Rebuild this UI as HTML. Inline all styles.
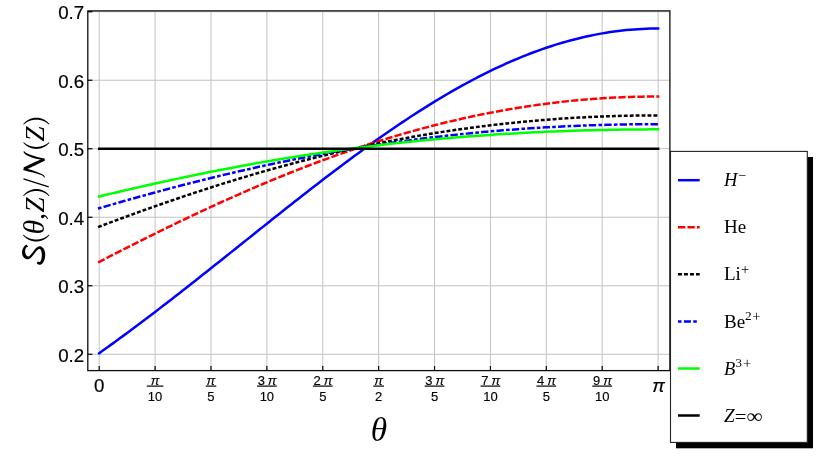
<!DOCTYPE html>
<html><head><meta charset="utf-8"><title>plot</title>
<style>html,body{margin:0;padding:0;background:#fff;}body{width:830px;height:466px;overflow:hidden;}svg{display:block;will-change:transform;transform:translateZ(0);}text{font-family:"Liberation Sans",sans-serif;fill:#000;}.se{font-family:"Liberation Serif",serif;}.tk{font-size:18.7px;stroke:#000;stroke-width:0.2px;}.fr{font-size:13px;stroke:#000;stroke-width:0.15px;}.lg{font-family:"Liberation Serif",serif;font-size:19px;}</style></head><body>
<svg width="830" height="466" viewBox="0 0 830 466">
<rect x="0" y="0" width="830" height="466" fill="#ffffff"/>
<g stroke="#c2c2c2" stroke-width="1" fill="none">
<line x1="99.20" y1="10.9" x2="99.20" y2="370.6"/>
<line x1="155.09" y1="10.9" x2="155.09" y2="370.6"/>
<line x1="210.98" y1="10.9" x2="210.98" y2="370.6"/>
<line x1="266.87" y1="10.9" x2="266.87" y2="370.6"/>
<line x1="322.76" y1="10.9" x2="322.76" y2="370.6"/>
<line x1="378.65" y1="10.9" x2="378.65" y2="370.6"/>
<line x1="434.54" y1="10.9" x2="434.54" y2="370.6"/>
<line x1="490.43" y1="10.9" x2="490.43" y2="370.6"/>
<line x1="546.32" y1="10.9" x2="546.32" y2="370.6"/>
<line x1="602.21" y1="10.9" x2="602.21" y2="370.6"/>
<line x1="658.10" y1="10.9" x2="658.10" y2="370.6"/>
<line x1="87.8" y1="354.28" x2="669.9" y2="354.28"/>
<line x1="87.8" y1="285.77" x2="669.9" y2="285.77"/>
<line x1="87.8" y1="217.26" x2="669.9" y2="217.26"/>
<line x1="87.8" y1="148.75" x2="669.9" y2="148.75"/>
<line x1="87.8" y1="80.24" x2="669.9" y2="80.24"/>
<line x1="87.8" y1="11.73" x2="669.9" y2="11.73"/>
</g>
<g fill="none" stroke-width="2.5" stroke-linecap="butt" stroke-linejoin="round">
<path d="M98.18,353.91 L99.20,353.18 L103.19,350.34 L107.18,347.48 L111.18,344.61 L115.17,341.71 L119.16,338.80 L123.15,335.87 L127.15,332.93 L131.14,329.97 L135.13,327.00 L139.12,324.01 L143.11,321.01 L147.11,317.99 L151.10,314.97 L155.09,311.92 L159.08,308.87 L163.07,305.80 L167.07,302.73 L171.06,299.64 L175.05,296.54 L179.04,293.43 L183.03,290.31 L187.03,287.19 L191.02,284.05 L195.01,280.91 L199.00,277.76 L203.00,274.60 L206.99,271.44 L210.98,268.27 L214.97,265.10 L218.96,261.92 L222.96,258.74 L226.95,255.56 L230.94,252.37 L234.93,249.19 L238.93,246.00 L242.92,242.81 L246.91,239.62 L250.90,236.43 L254.89,233.24 L258.89,230.05 L262.88,226.87 L266.87,223.69 L270.86,220.51 L274.85,217.34 L278.85,214.17 L282.84,211.01 L286.83,207.85 L290.82,204.70 L294.81,201.56 L298.81,198.43 L302.80,195.30 L306.79,192.19 L310.78,189.09 L314.78,185.99 L318.77,182.91 L322.76,179.84 L326.75,176.79 L330.74,173.75 L334.74,170.72 L338.73,167.71 L342.72,164.71 L346.71,161.73 L350.70,158.77 L354.70,155.82 L358.69,152.90 L362.68,149.99 L366.67,147.10 L370.67,144.23 L374.66,141.39 L378.65,138.56 L382.64,135.76 L386.63,132.98 L390.63,130.23 L394.62,127.50 L398.61,124.79 L402.60,122.11 L406.59,119.46 L410.59,116.83 L414.58,114.23 L418.57,111.66 L422.56,109.12 L426.56,106.61 L430.55,104.13 L434.54,101.68 L438.53,99.26 L442.52,96.87 L446.52,94.52 L450.51,92.19 L454.50,89.90 L458.49,87.65 L462.48,85.43 L466.48,83.25 L470.47,81.10 L474.46,78.99 L478.45,76.91 L482.45,74.87 L486.44,72.88 L490.43,70.91 L494.42,68.99 L498.41,67.11 L502.41,65.27 L506.40,63.47 L510.39,61.70 L514.38,59.99 L518.38,58.31 L522.37,56.67 L526.36,55.08 L530.35,53.53 L534.34,52.02 L538.34,50.56 L542.33,49.14 L546.32,47.77 L550.31,46.44 L554.30,45.15 L558.30,43.92 L562.29,42.72 L566.28,41.58 L570.27,40.48 L574.26,39.43 L578.26,38.42 L582.25,37.46 L586.24,36.55 L590.23,35.69 L594.23,34.87 L598.22,34.11 L602.21,33.39 L606.20,32.72 L610.19,32.10 L614.19,31.53 L618.18,31.01 L622.17,30.53 L626.16,30.11 L630.16,29.74 L634.15,29.41 L638.14,29.14 L642.13,28.91 L646.12,28.74 L650.12,28.61 L654.11,28.54 L658.10,28.51 L659.35,28.51" stroke="#0000ff"/>
<path d="M98.09,262.43 L99.20,261.86 L103.19,259.80 L107.18,257.75 L111.18,255.71 L115.17,253.67 L119.16,251.63 L123.15,249.60 L127.15,247.58 L131.14,245.56 L135.13,243.55 L139.12,241.55 L143.11,239.56 L147.11,237.57 L151.10,235.58 L155.09,233.61 L159.08,231.64 L163.07,229.69 L167.07,227.74 L171.06,225.80 L175.05,223.86 L179.04,221.94 L183.03,220.03 L187.03,218.12 L191.02,216.23 L195.01,214.34 L199.00,212.47 L203.00,210.60 L206.99,208.75 L210.98,206.91 L214.97,205.07 L218.96,203.25 L222.96,201.44 L226.95,199.64 L230.94,197.85 L234.93,196.08 L238.93,194.31 L242.92,192.56 L246.91,190.82 L250.90,189.09 L254.89,187.38 L258.89,185.68 L262.88,183.99 L266.87,182.31 L270.86,180.65 L274.85,179.00 L278.85,177.36 L282.84,175.74 L286.83,174.13 L290.82,172.53 L294.81,170.95 L298.81,169.38 L302.80,167.83 L306.79,166.29 L310.78,164.77 L314.78,163.26 L318.77,161.76 L322.76,160.28 L326.75,158.82 L330.74,157.37 L334.74,155.93 L338.73,154.52 L342.72,153.11 L346.71,151.72 L350.70,150.35 L354.70,148.99 L358.69,147.65 L362.68,146.33 L366.67,145.02 L370.67,143.72 L374.66,142.45 L378.65,141.18 L382.64,139.94 L386.63,138.71 L390.63,137.50 L394.62,136.30 L398.61,135.13 L402.60,133.96 L406.59,132.82 L410.59,131.69 L414.58,130.58 L418.57,129.48 L422.56,128.41 L426.56,127.35 L430.55,126.30 L434.54,125.28 L438.53,124.27 L442.52,123.28 L446.52,122.30 L450.51,121.35 L454.50,120.41 L458.49,119.49 L462.48,118.58 L466.48,117.70 L470.47,116.83 L474.46,115.98 L478.45,115.15 L482.45,114.33 L486.44,113.53 L490.43,112.75 L494.42,111.99 L498.41,111.25 L502.41,110.52 L506.40,109.81 L510.39,109.12 L514.38,108.45 L518.38,107.80 L522.37,107.16 L526.36,106.55 L530.35,105.95 L534.34,105.37 L538.34,104.80 L542.33,104.26 L546.32,103.73 L550.31,103.22 L554.30,102.74 L558.30,102.26 L562.29,101.81 L566.28,101.38 L570.27,100.96 L574.26,100.56 L578.26,100.18 L582.25,99.82 L586.24,99.48 L590.23,99.16 L594.23,98.85 L598.22,98.56 L602.21,98.29 L606.20,98.04 L610.19,97.81 L614.19,97.60 L618.18,97.40 L622.17,97.23 L626.16,97.07 L630.16,96.93 L634.15,96.81 L638.14,96.71 L642.13,96.63 L646.12,96.56 L650.12,96.51 L654.11,96.49 L658.10,96.48 L659.35,96.47" stroke="#ff0000" stroke-dasharray="7.3 2.19"/>
<path d="M98.03,227.09 L99.20,226.65 L103.19,225.15 L107.18,223.65 L111.18,222.17 L115.17,220.69 L119.16,219.21 L123.15,217.74 L127.15,216.28 L131.14,214.83 L135.13,213.38 L139.12,211.94 L143.11,210.51 L147.11,209.08 L151.10,207.67 L155.09,206.26 L159.08,204.86 L163.07,203.46 L167.07,202.08 L171.06,200.70 L175.05,199.34 L179.04,197.98 L183.03,196.63 L187.03,195.29 L191.02,193.95 L195.01,192.63 L199.00,191.32 L203.00,190.02 L206.99,188.72 L210.98,187.44 L214.97,186.16 L218.96,184.90 L222.96,183.64 L226.95,182.40 L230.94,181.16 L234.93,179.94 L238.93,178.73 L242.92,177.52 L246.91,176.33 L250.90,175.15 L254.89,173.98 L258.89,172.82 L262.88,171.67 L266.87,170.53 L270.86,169.40 L274.85,168.29 L278.85,167.18 L282.84,166.09 L286.83,165.00 L290.82,163.93 L294.81,162.87 L298.81,161.82 L302.80,160.79 L306.79,159.76 L310.78,158.74 L314.78,157.74 L318.77,156.75 L322.76,155.77 L326.75,154.80 L330.74,153.85 L334.74,152.90 L338.73,151.97 L342.72,151.05 L346.71,150.14 L350.70,149.24 L354.70,148.36 L358.69,147.48 L362.68,146.62 L366.67,145.77 L370.67,144.93 L374.66,144.11 L378.65,143.29 L382.64,142.49 L386.63,141.70 L390.63,140.92 L394.62,140.15 L398.61,139.40 L402.60,138.65 L406.59,137.92 L410.59,137.20 L414.58,136.50 L418.57,135.80 L422.56,135.12 L426.56,134.45 L430.55,133.79 L434.54,133.14 L438.53,132.51 L442.52,131.88 L446.52,131.27 L450.51,130.67 L454.50,130.08 L458.49,129.50 L462.48,128.94 L466.48,128.39 L470.47,127.85 L474.46,127.32 L478.45,126.80 L482.45,126.29 L486.44,125.80 L490.43,125.32 L494.42,124.85 L498.41,124.39 L502.41,123.94 L506.40,123.50 L510.39,123.08 L514.38,122.67 L518.38,122.26 L522.37,121.88 L526.36,121.50 L530.35,121.13 L534.34,120.78 L538.34,120.43 L542.33,120.10 L546.32,119.78 L550.31,119.47 L554.30,119.17 L558.30,118.88 L562.29,118.61 L566.28,118.35 L570.27,118.09 L574.26,117.85 L578.26,117.62 L582.25,117.40 L586.24,117.20 L590.23,117.00 L594.23,116.82 L598.22,116.64 L602.21,116.48 L606.20,116.33 L610.19,116.19 L614.19,116.06 L618.18,115.94 L622.17,115.84 L626.16,115.74 L630.16,115.66 L634.15,115.59 L638.14,115.53 L642.13,115.47 L646.12,115.44 L650.12,115.41 L654.11,115.39 L658.10,115.39 L659.35,115.38" stroke="#000000" stroke-dasharray="3.9 2.036"/>
<path d="M98.00,208.57 L99.20,208.22 L103.19,207.05 L107.18,205.89 L111.18,204.74 L115.17,203.59 L119.16,202.44 L123.15,201.31 L127.15,200.17 L131.14,199.05 L135.13,197.93 L139.12,196.82 L143.11,195.71 L147.11,194.61 L151.10,193.51 L155.09,192.43 L159.08,191.35 L163.07,190.27 L167.07,189.21 L171.06,188.15 L175.05,187.09 L179.04,186.05 L183.03,185.01 L187.03,183.98 L191.02,182.96 L195.01,181.95 L199.00,180.94 L203.00,179.94 L206.99,178.95 L210.98,177.97 L214.97,176.99 L218.96,176.03 L222.96,175.07 L226.95,174.12 L230.94,173.18 L234.93,172.25 L238.93,171.32 L242.92,170.41 L246.91,169.50 L250.90,168.60 L254.89,167.71 L258.89,166.83 L262.88,165.96 L266.87,165.09 L270.86,164.24 L274.85,163.39 L278.85,162.56 L282.84,161.73 L286.83,160.91 L290.82,160.10 L294.81,159.30 L298.81,158.51 L302.80,157.73 L306.79,156.96 L310.78,156.19 L314.78,155.44 L318.77,154.70 L322.76,153.96 L326.75,153.23 L330.74,152.52 L334.74,151.81 L338.73,151.11 L342.72,150.42 L346.71,149.74 L350.70,149.07 L354.70,148.41 L358.69,147.75 L362.68,147.11 L366.67,146.48 L370.67,145.85 L374.66,145.24 L378.65,144.63 L382.64,144.04 L386.63,143.45 L390.63,142.87 L394.62,142.30 L398.61,141.74 L402.60,141.19 L406.59,140.65 L410.59,140.12 L414.58,139.60 L418.57,139.08 L422.56,138.58 L426.56,138.08 L430.55,137.60 L434.54,137.12 L438.53,136.65 L442.52,136.19 L446.52,135.74 L450.51,135.30 L454.50,134.87 L458.49,134.44 L462.48,134.03 L466.48,133.62 L470.47,133.23 L474.46,132.84 L478.45,132.46 L482.45,132.09 L486.44,131.73 L490.43,131.37 L494.42,131.03 L498.41,130.69 L502.41,130.37 L506.40,130.05 L510.39,129.74 L514.38,129.44 L518.38,129.15 L522.37,128.86 L526.36,128.59 L530.35,128.32 L534.34,128.06 L538.34,127.81 L542.33,127.57 L546.32,127.34 L550.31,127.11 L554.30,126.90 L558.30,126.69 L562.29,126.49 L566.28,126.30 L570.27,126.11 L574.26,125.94 L578.26,125.77 L582.25,125.62 L586.24,125.47 L590.23,125.32 L594.23,125.19 L598.22,125.06 L602.21,124.95 L606.20,124.84 L610.19,124.74 L614.19,124.64 L618.18,124.56 L622.17,124.48 L626.16,124.41 L630.16,124.35 L634.15,124.30 L638.14,124.26 L642.13,124.22 L646.12,124.19 L650.12,124.17 L654.11,124.16 L658.10,124.15 L659.35,124.15" stroke="#0000ff" stroke-dasharray="3.6 2.2 7.4 2.22"/>
<path d="M97.98,196.79 L99.20,196.50 L103.19,195.54 L107.18,194.59 L111.18,193.64 L115.17,192.70 L119.16,191.76 L123.15,190.82 L127.15,189.90 L131.14,188.97 L135.13,188.06 L139.12,187.15 L143.11,186.24 L147.11,185.34 L151.10,184.45 L155.09,183.56 L159.08,182.68 L163.07,181.80 L167.07,180.93 L171.06,180.07 L175.05,179.21 L179.04,178.36 L183.03,177.52 L187.03,176.68 L191.02,175.85 L195.01,175.03 L199.00,174.21 L203.00,173.40 L206.99,172.60 L210.98,171.80 L214.97,171.02 L218.96,170.24 L222.96,169.46 L226.95,168.69 L230.94,167.94 L234.93,167.18 L238.93,166.44 L242.92,165.70 L246.91,164.97 L250.90,164.25 L254.89,163.53 L258.89,162.83 L262.88,162.13 L266.87,161.44 L270.86,160.75 L274.85,160.07 L278.85,159.41 L282.84,158.74 L286.83,158.09 L290.82,157.44 L294.81,156.81 L298.81,156.18 L302.80,155.55 L306.79,154.94 L310.78,154.33 L314.78,153.73 L318.77,153.14 L322.76,152.56 L326.75,151.98 L330.74,151.41 L334.74,150.85 L338.73,150.30 L342.72,149.75 L346.71,149.22 L350.70,148.69 L354.70,148.16 L358.69,147.65 L362.68,147.14 L366.67,146.65 L370.67,146.15 L374.66,145.67 L378.65,145.20 L382.64,144.73 L386.63,144.27 L390.63,143.81 L394.62,143.37 L398.61,142.93 L402.60,142.50 L406.59,142.08 L410.59,141.66 L414.58,141.25 L418.57,140.85 L422.56,140.46 L426.56,140.08 L430.55,139.70 L434.54,139.33 L438.53,138.96 L442.52,138.61 L446.52,138.26 L450.51,137.91 L454.50,137.58 L458.49,137.25 L462.48,136.93 L466.48,136.62 L470.47,136.31 L474.46,136.01 L478.45,135.72 L482.45,135.43 L486.44,135.15 L490.43,134.88 L494.42,134.62 L498.41,134.36 L502.41,134.11 L506.40,133.86 L510.39,133.63 L514.38,133.40 L518.38,133.17 L522.37,132.95 L526.36,132.74 L530.35,132.54 L534.34,132.34 L538.34,132.15 L542.33,131.96 L546.32,131.79 L550.31,131.62 L554.30,131.45 L558.30,131.29 L562.29,131.14 L566.28,130.99 L570.27,130.85 L574.26,130.72 L578.26,130.59 L582.25,130.47 L586.24,130.36 L590.23,130.25 L594.23,130.15 L598.22,130.05 L602.21,129.96 L606.20,129.88 L610.19,129.80 L614.19,129.73 L618.18,129.67 L622.17,129.61 L626.16,129.56 L630.16,129.51 L634.15,129.47 L638.14,129.44 L642.13,129.41 L646.12,129.39 L650.12,129.37 L654.11,129.36 L658.10,129.36 L659.35,129.36" stroke="#00ff00"/>
<path d="M97.95,148.75 L659.35,148.75" stroke="#000000" stroke-width="2.4"/>
</g>
<rect x="87.8" y="10.9" width="582.10" height="359.70" fill="none" stroke="#0d0d0d" stroke-width="1.3"/>
<g stroke="#000" stroke-width="1.2" fill="none">
<line x1="99.20" y1="370.6" x2="99.20" y2="366.1"/>
<line x1="155.09" y1="370.6" x2="155.09" y2="366.1"/>
<line x1="210.98" y1="370.6" x2="210.98" y2="366.1"/>
<line x1="266.87" y1="370.6" x2="266.87" y2="366.1"/>
<line x1="322.76" y1="370.6" x2="322.76" y2="366.1"/>
<line x1="378.65" y1="370.6" x2="378.65" y2="366.1"/>
<line x1="434.54" y1="370.6" x2="434.54" y2="366.1"/>
<line x1="490.43" y1="370.6" x2="490.43" y2="366.1"/>
<line x1="546.32" y1="370.6" x2="546.32" y2="366.1"/>
<line x1="602.21" y1="370.6" x2="602.21" y2="366.1"/>
<line x1="658.10" y1="370.6" x2="658.10" y2="366.1"/>
<line x1="87.8" y1="354.28" x2="92.39999999999999" y2="354.28"/>
<line x1="87.8" y1="285.77" x2="92.39999999999999" y2="285.77"/>
<line x1="87.8" y1="217.26" x2="92.39999999999999" y2="217.26"/>
<line x1="87.8" y1="148.75" x2="92.39999999999999" y2="148.75"/>
<line x1="87.8" y1="80.24" x2="92.39999999999999" y2="80.24"/>
<line x1="87.8" y1="11.73" x2="92.39999999999999" y2="11.73"/>
</g>
<text class="tk" x="84.2" y="361.58" text-anchor="end">0.2</text>
<text class="tk" x="84.2" y="293.07" text-anchor="end">0.3</text>
<text class="tk" x="84.2" y="224.56" text-anchor="end">0.4</text>
<text class="tk" x="84.2" y="156.05" text-anchor="end">0.5</text>
<text class="tk" x="84.2" y="87.54" text-anchor="end">0.6</text>
<text class="tk" x="84.2" y="19.03" text-anchor="end">0.7</text>
<text class="tk" x="99.20" y="392" text-anchor="middle">0</text>
<text class="fr" x="155.09" y="384.5" text-anchor="middle" font-style="italic">π</text>
<line x1="146.79" y1="386.1" x2="163.39" y2="386.1" stroke="#000" stroke-width="1.2"/>
<text class="fr" x="155.09" y="401" text-anchor="middle">10</text>
<text class="fr" x="210.98" y="384.5" text-anchor="middle" font-style="italic">π</text>
<line x1="205.68" y1="386.1" x2="216.28" y2="386.1" stroke="#000" stroke-width="1.2"/>
<text class="fr" x="210.98" y="401" text-anchor="middle">5</text>
<text class="fr" x="257.67" y="384.5">3</text>
<text class="fr" x="267.87" y="384.5" font-style="italic">π</text>
<line x1="256.97" y1="386.1" x2="276.77" y2="386.1" stroke="#000" stroke-width="1.2"/>
<text class="fr" x="266.87" y="401" text-anchor="middle">10</text>
<text class="fr" x="313.56" y="384.5">2</text>
<text class="fr" x="323.76" y="384.5" font-style="italic">π</text>
<line x1="312.86" y1="386.1" x2="332.66" y2="386.1" stroke="#000" stroke-width="1.2"/>
<text class="fr" x="322.76" y="401" text-anchor="middle">5</text>
<text class="fr" x="378.65" y="384.5" text-anchor="middle" font-style="italic">π</text>
<line x1="373.35" y1="386.1" x2="383.95" y2="386.1" stroke="#000" stroke-width="1.2"/>
<text class="fr" x="378.65" y="401" text-anchor="middle">2</text>
<text class="fr" x="425.34" y="384.5">3</text>
<text class="fr" x="435.54" y="384.5" font-style="italic">π</text>
<line x1="424.64" y1="386.1" x2="444.44" y2="386.1" stroke="#000" stroke-width="1.2"/>
<text class="fr" x="434.54" y="401" text-anchor="middle">5</text>
<text class="fr" x="481.23" y="384.5">7</text>
<text class="fr" x="491.43" y="384.5" font-style="italic">π</text>
<line x1="480.53" y1="386.1" x2="500.33" y2="386.1" stroke="#000" stroke-width="1.2"/>
<text class="fr" x="490.43" y="401" text-anchor="middle">10</text>
<text class="fr" x="537.12" y="384.5">4</text>
<text class="fr" x="547.32" y="384.5" font-style="italic">π</text>
<line x1="536.42" y1="386.1" x2="556.22" y2="386.1" stroke="#000" stroke-width="1.2"/>
<text class="fr" x="546.32" y="401" text-anchor="middle">5</text>
<text class="fr" x="593.01" y="384.5">9</text>
<text class="fr" x="603.21" y="384.5" font-style="italic">π</text>
<line x1="592.31" y1="386.1" x2="612.11" y2="386.1" stroke="#000" stroke-width="1.2"/>
<text class="fr" x="602.21" y="401" text-anchor="middle">10</text>
<text class="tk" x="658.60" y="391.7" text-anchor="middle" font-style="italic">π</text>
<text class="se" x="379.0" y="440.6" text-anchor="middle" font-style="italic" font-size="33.3">θ</text>
<path d="M26.58,244.40 L26.46,244.50 L26.36,244.58 L26.24,244.66 L26.10,244.76 L25.92,244.87 L25.73,244.99 L25.51,245.13 L25.28,245.29 L25.05,245.48 L24.81,245.70 L24.58,245.95 L24.37,246.22 L24.18,246.48 L23.99,246.76 L23.79,247.05 L23.59,247.37 L23.39,247.70 L23.20,248.04 L23.00,248.40 L22.82,248.77 L22.65,249.16 L22.50,249.56 L22.37,249.96 L22.27,250.38 L22.19,250.79 L22.13,251.20 L22.09,251.62 L22.06,252.05 L22.05,252.48 L22.06,252.92 L22.08,253.35 L22.13,253.78 L22.19,254.20 L22.27,254.62 L22.38,255.03 L22.52,255.43 L22.69,255.81 L22.88,256.18 L23.10,256.53 L23.33,256.87 L23.59,257.18 L23.85,257.47 L24.14,257.75 L24.43,258.00 L24.73,258.23 L25.05,258.44 L25.38,258.63 L25.71,258.79 L26.02,258.91 L26.34,259.01 L26.68,259.09 L27.02,259.16 L27.39,259.19 L27.76,259.20 L28.13,259.17 L28.52,259.11 L28.90,259.01 L29.28,258.87 L29.65,258.70 L30.02,258.49 L30.38,258.23 L30.73,257.94 L31.06,257.63 L31.37,257.30 L31.69,256.95 L32.00,256.59 L32.30,256.22 L32.61,255.84 L32.91,255.47 L33.20,255.10 L33.50,254.74 L33.80,254.38 L34.11,254.01 L34.43,253.60 L34.75,253.19 L35.06,252.78 L35.37,252.36 L35.68,251.95 L35.98,251.56 L36.28,251.19 L36.57,250.85 L36.85,250.54 L37.11,250.28 L37.37,250.06 L37.63,249.85 L37.90,249.65 L38.17,249.47 L38.43,249.31 L38.68,249.18 L38.92,249.07 L39.14,248.99 L39.33,248.93 L39.50,248.90 L39.64,248.90 L39.73,248.91 L39.80,248.93 L39.85,248.97 L39.93,249.02 L40.03,249.10 L40.14,249.20 L40.27,249.33 L40.41,249.49 L40.55,249.67 L40.68,249.87 L40.81,250.09 L40.94,250.31 L41.05,250.55 L41.15,250.78 L41.24,251.02 L41.32,251.29 L41.41,251.60 L41.48,251.94 L41.55,252.30 L41.61,252.68 L41.67,253.07 L41.71,253.47 L41.75,253.86 L41.77,254.26 L41.79,254.64 L41.80,255.01 L41.80,255.38 L41.79,255.75 L41.77,256.14 L41.74,256.54 L41.70,256.95 L41.66,257.35 L41.60,257.75 L41.54,258.14 L41.47,258.51 L41.39,258.87 L41.31,259.20 L41.23,259.50 L41.15,259.77 L41.05,260.03 L40.95,260.29 L40.84,260.53 L40.72,260.77 L40.59,260.99 L40.47,261.19 L40.34,261.38 L40.22,261.56 L40.10,261.71 L39.99,261.83 L39.91,261.92 L39.87,261.97 L39.84,261.99 L39.81,262.01 L39.78,262.03 L39.73,262.05 L39.68,262.06 L39.61,262.07 L39.52,262.07 L39.43,262.07 L39.32,262.06 L39.21,262.05 L39.13,262.04 L39.12,262.05 L39.13,262.07 L39.11,262.07 L39.06,262.05 L38.99,262.01 L38.91,261.95 L38.81,261.87 L38.70,261.78 L38.58,261.67 L38.44,261.55 L38.28,261.42 L38.14,261.32 L36.66,263.08 L36.75,263.17 L36.81,263.25 L36.89,263.35 L36.99,263.46 L37.09,263.59 L37.21,263.72 L37.35,263.87 L37.52,264.03 L37.71,264.18 L37.94,264.33 L38.20,264.46 L38.47,264.56 L38.68,264.62 L38.88,264.66 L39.09,264.70 L39.33,264.74 L39.59,264.75 L39.86,264.75 L40.15,264.73 L40.46,264.67 L40.77,264.58 L41.09,264.45 L41.40,264.28 L41.69,264.08 L41.94,263.87 L42.17,263.65 L42.40,263.42 L42.62,263.16 L42.84,262.89 L43.06,262.60 L43.27,262.29 L43.47,261.97 L43.66,261.62 L43.84,261.26 L44.01,260.89 L44.17,260.50 L44.31,260.10 L44.44,259.69 L44.57,259.26 L44.68,258.82 L44.79,258.36 L44.89,257.89 L44.98,257.41 L45.06,256.92 L45.12,256.44 L45.16,255.95 L45.19,255.46 L45.20,254.99 L45.19,254.52 L45.16,254.04 L45.12,253.56 L45.07,253.07 L45.00,252.59 L44.91,252.11 L44.81,251.63 L44.70,251.16 L44.56,250.70 L44.41,250.26 L44.24,249.83 L44.05,249.42 L43.84,249.04 L43.61,248.68 L43.36,248.33 L43.09,248.00 L42.81,247.69 L42.50,247.40 L42.18,247.13 L41.83,246.88 L41.46,246.66 L41.07,246.48 L40.65,246.35 L40.20,246.27 L39.76,246.25 L39.33,246.29 L38.92,246.38 L38.53,246.51 L38.16,246.67 L37.81,246.85 L37.46,247.06 L37.12,247.29 L36.79,247.53 L36.47,247.78 L36.16,248.05 L35.83,248.34 L35.50,248.67 L35.17,249.04 L34.86,249.43 L34.55,249.84 L34.25,250.26 L33.95,250.68 L33.65,251.11 L33.35,251.53 L33.06,251.93 L32.77,252.32 L32.49,252.68 L32.20,253.02 L31.90,253.36 L31.58,253.72 L31.27,254.07 L30.95,254.42 L30.64,254.76 L30.33,255.08 L30.03,255.37 L29.74,255.64 L29.46,255.88 L29.20,256.07 L28.98,256.22 L28.78,256.31 L28.60,256.38 L28.44,256.42 L28.28,256.44 L28.14,256.44 L28.01,256.42 L27.88,256.39 L27.75,256.35 L27.63,256.30 L27.50,256.24 L27.36,256.17 L27.22,256.10 L27.09,256.01 L26.98,255.93 L26.86,255.83 L26.73,255.71 L26.59,255.57 L26.46,255.42 L26.32,255.25 L26.19,255.08 L26.07,254.90 L25.95,254.71 L25.85,254.53 L25.76,254.35 L25.68,254.17 L25.60,253.98 L25.53,253.75 L25.45,253.50 L25.38,253.22 L25.31,252.93 L25.25,252.62 L25.20,252.31 L25.17,251.99 L25.14,251.68 L25.13,251.38 L25.12,251.09 L25.13,250.82 L25.15,250.57 L25.19,250.30 L25.25,250.01 L25.32,249.71 L25.41,249.40 L25.50,249.10 L25.61,248.80 L25.73,248.51 L25.86,248.24 L25.98,247.98 L26.11,247.76 L26.23,247.58 L26.32,247.46 L26.41,247.39 L26.49,247.33 L26.59,247.29 L26.70,247.25 L26.82,247.21 L26.97,247.18 L27.14,247.13 L27.34,247.08 L27.56,247.00 L27.80,246.90 L28.02,246.80Z" fill="#000"/>
<path d="M23.34,151.85 L23.49,152.03 L23.62,152.22 L23.74,152.40 L23.87,152.59 L24.00,152.79 L24.14,152.99 L24.29,153.20 L24.46,153.41 L24.65,153.62 L24.86,153.84 L25.09,154.05 L25.35,154.26 L25.62,154.46 L25.91,154.66 L26.21,154.86 L26.52,155.06 L26.85,155.25 L27.19,155.44 L27.54,155.63 L27.90,155.81 L28.27,156.00 L28.64,156.18 L29.03,156.35 L29.43,156.53 L29.84,156.70 L30.26,156.87 L30.70,157.04 L31.16,157.21 L31.62,157.38 L32.08,157.54 L32.56,157.70 L33.03,157.85 L33.51,158.00 L33.98,158.14 L34.45,158.28 L34.91,158.41 L35.38,158.54 L35.85,158.66 L36.33,158.77 L36.81,158.88 L37.30,158.99 L37.77,159.09 L38.24,159.18 L38.71,159.27 L39.16,159.36 L39.59,159.44 L40.01,159.51 L40.41,159.58 L40.79,159.64 L41.16,159.69 L41.51,159.74 L41.84,159.78 L42.16,159.81 L42.47,159.84 L42.77,159.86 L43.07,159.88 L43.37,159.91 L43.67,159.93 L43.98,159.96 L44.29,159.99 L44.51,158.81 L44.20,158.73 L43.90,158.65 L43.60,158.57 L43.31,158.49 L43.02,158.42 L42.73,158.34 L42.43,158.26 L42.13,158.18 L41.82,158.10 L41.49,158.01 L41.15,157.92 L40.79,157.82 L40.40,157.72 L39.99,157.61 L39.57,157.50 L39.13,157.38 L38.68,157.27 L38.23,157.15 L37.77,157.03 L37.30,156.90 L36.84,156.78 L36.38,156.65 L35.93,156.52 L35.49,156.39 L35.04,156.26 L34.59,156.12 L34.13,155.98 L33.66,155.84 L33.20,155.70 L32.74,155.55 L32.28,155.40 L31.84,155.26 L31.40,155.11 L30.98,154.96 L30.57,154.82 L30.17,154.67 L29.79,154.53 L29.42,154.38 L29.05,154.24 L28.69,154.09 L28.34,153.94 L28.00,153.80 L27.67,153.65 L27.36,153.51 L27.06,153.36 L26.77,153.22 L26.50,153.08 L26.25,152.94 L26.02,152.81 L25.82,152.67 L25.64,152.54 L25.46,152.41 L25.29,152.27 L25.12,152.12 L24.96,151.97 L24.79,151.81 L24.62,151.65 L24.44,151.49 L24.25,151.32 L24.06,151.15Z" fill="#000"/>
<path d="M44.05,158.02 L43.19,158.40 L42.33,158.78 L41.47,159.16 L40.61,159.54 L39.74,159.91 L38.88,160.29 L38.02,160.67 L37.16,161.05 L36.31,161.43 L35.45,161.82 L34.59,162.21 L33.74,162.60 L32.89,162.99 L32.04,163.39 L31.19,163.80 L30.34,164.20 L29.50,164.61 L28.65,165.02 L27.81,165.43 L26.96,165.85 L26.12,166.26 L25.27,166.67 L24.43,167.08 L23.58,167.49 L24.82,170.11 L25.67,169.72 L26.53,169.33 L27.38,168.94 L28.24,168.55 L29.09,168.17 L29.95,167.78 L30.80,167.39 L31.66,167.00 L32.51,166.60 L33.36,166.21 L34.21,165.81 L35.06,165.40 L35.91,164.99 L36.75,164.58 L37.59,164.17 L38.44,163.75 L39.28,163.33 L40.12,162.91 L40.96,162.49 L41.79,162.06 L42.63,161.64 L43.47,161.22 L44.31,160.80 L45.15,160.38Z" fill="#000"/>
<path d="M23.20,170.04 L23.57,170.14 L23.94,170.25 L24.31,170.35 L24.67,170.46 L25.04,170.57 L25.42,170.68 L25.79,170.79 L26.16,170.89 L26.54,171.00 L26.92,171.10 L27.30,171.20 L27.68,171.30 L28.06,171.40 L28.43,171.49 L28.80,171.57 L29.16,171.65 L29.51,171.73 L29.87,171.81 L30.23,171.89 L30.60,171.97 L30.97,172.05 L31.37,172.15 L31.78,172.25 L32.21,172.36 L32.68,172.48 L33.18,172.61 L33.72,172.76 L34.27,172.91 L34.83,173.07 L35.41,173.23 L35.98,173.39 L36.54,173.55 L37.09,173.71 L37.61,173.86 L38.10,174.01 L38.56,174.16 L39.00,174.30 L39.42,174.43 L39.82,174.55 L40.20,174.68 L40.57,174.79 L40.92,174.91 L41.25,175.03 L41.56,175.15 L41.85,175.27 L42.12,175.39 L42.36,175.52 L42.59,175.65 L42.79,175.79 L42.95,175.93 L43.10,176.07 L43.23,176.22 L43.35,176.38 L43.46,176.54 L43.57,176.72 L43.68,176.90 L43.79,177.10 L43.91,177.30 L44.05,177.50 L44.20,177.69 L45.00,177.11 L44.88,176.93 L44.77,176.76 L44.67,176.58 L44.57,176.39 L44.46,176.20 L44.34,175.99 L44.21,175.79 L44.06,175.57 L43.89,175.36 L43.69,175.15 L43.46,174.94 L43.21,174.75 L42.93,174.56 L42.65,174.39 L42.34,174.23 L42.03,174.07 L41.70,173.92 L41.36,173.78 L41.00,173.63 L40.63,173.48 L40.25,173.33 L39.86,173.17 L39.46,173.01 L39.04,172.84 L38.59,172.66 L38.10,172.46 L37.59,172.26 L37.05,172.04 L36.50,171.83 L35.94,171.61 L35.38,171.40 L34.83,171.19 L34.28,170.98 L33.76,170.79 L33.26,170.61 L32.79,170.44 L32.35,170.29 L31.92,170.15 L31.52,170.03 L31.13,169.91 L30.75,169.81 L30.39,169.70 L30.04,169.61 L29.69,169.51 L29.35,169.41 L29.01,169.31 L28.67,169.21 L28.32,169.10 L27.96,168.98 L27.61,168.86 L27.25,168.73 L26.89,168.60 L26.53,168.48 L26.17,168.35 L25.81,168.22 L25.45,168.09 L25.09,167.95 L24.73,167.82 L24.36,167.69 L24.00,167.56Z" fill="#000"/>
<path d="M22.94,235.20 L23.15,235.41 L23.36,235.62 L23.58,235.84 L23.79,236.05 L24.00,236.27 L24.22,236.49 L24.44,236.71 L24.66,236.92 L24.89,237.14 L25.12,237.35 L25.36,237.56 L25.61,237.75 L25.86,237.95 L26.11,238.13 L26.37,238.32 L26.63,238.50 L26.89,238.67 L27.15,238.84 L27.42,239.01 L27.69,239.17 L27.97,239.33 L28.25,239.48 L28.53,239.63 L28.81,239.77 L29.09,239.91 L29.38,240.04 L29.67,240.16 L29.97,240.29 L30.26,240.40 L30.56,240.51 L30.86,240.62 L31.17,240.72 L31.47,240.81 L31.78,240.90 L32.09,240.98 L32.40,241.06 L32.71,241.13 L33.02,241.19 L33.33,241.25 L33.65,241.30 L33.97,241.35 L34.28,241.39 L34.60,241.42 L34.92,241.45 L35.24,241.47 L35.56,241.49 L35.88,241.50 L36.20,241.50 L36.52,241.50 L36.84,241.49 L37.16,241.47 L37.48,241.45 L37.80,241.42 L38.12,241.39 L38.43,241.35 L38.75,241.30 L39.07,241.25 L39.38,241.19 L39.69,241.13 L40.00,241.06 L40.31,240.98 L40.62,240.90 L40.93,240.81 L41.23,240.72 L41.54,240.62 L41.84,240.51 L42.14,240.40 L42.43,240.29 L42.73,240.16 L43.02,240.04 L43.31,239.91 L43.59,239.77 L43.87,239.63 L44.15,239.48 L44.43,239.33 L44.71,239.17 L44.98,239.01 L45.25,238.84 L45.51,238.67 L45.77,238.50 L46.03,238.32 L46.29,238.13 L46.54,237.95 L46.79,237.75 L47.04,237.56 L47.28,237.35 L47.51,237.14 L47.74,236.92 L47.96,236.71 L48.18,236.49 L48.40,236.27 L48.61,236.05 L48.82,235.84 L49.04,235.62 L49.25,235.41 L49.46,235.20 L48.94,234.60 L48.70,234.79 L48.46,234.98 L48.22,235.18 L47.99,235.37 L47.75,235.57 L47.52,235.76 L47.29,235.95 L47.06,236.13 L46.82,236.31 L46.59,236.48 L46.35,236.64 L46.11,236.79 L45.86,236.94 L45.61,237.09 L45.35,237.23 L45.09,237.37 L44.83,237.50 L44.57,237.63 L44.30,237.75 L44.04,237.87 L43.77,237.99 L43.50,238.10 L43.23,238.21 L42.96,238.31 L42.69,238.41 L42.42,238.50 L42.14,238.59 L41.87,238.68 L41.59,238.76 L41.31,238.83 L41.03,238.91 L40.75,238.97 L40.47,239.04 L40.18,239.10 L39.90,239.15 L39.62,239.21 L39.34,239.25 L39.06,239.30 L38.77,239.33 L38.49,239.37 L38.20,239.40 L37.92,239.43 L37.63,239.45 L37.34,239.47 L37.06,239.48 L36.77,239.49 L36.48,239.50 L36.20,239.50 L35.92,239.50 L35.63,239.49 L35.34,239.48 L35.06,239.47 L34.77,239.45 L34.48,239.43 L34.20,239.40 L33.91,239.37 L33.63,239.33 L33.34,239.30 L33.06,239.25 L32.78,239.21 L32.50,239.15 L32.22,239.10 L31.93,239.04 L31.65,238.97 L31.37,238.91 L31.09,238.83 L30.81,238.76 L30.53,238.68 L30.26,238.59 L29.98,238.50 L29.71,238.41 L29.44,238.31 L29.17,238.21 L28.90,238.10 L28.63,237.99 L28.36,237.87 L28.10,237.75 L27.83,237.63 L27.57,237.50 L27.31,237.37 L27.05,237.23 L26.79,237.09 L26.54,236.94 L26.29,236.79 L26.05,236.64 L25.81,236.48 L25.58,236.31 L25.34,236.13 L25.11,235.95 L24.88,235.76 L24.65,235.57 L24.41,235.37 L24.18,235.18 L23.94,234.98 L23.70,234.79 L23.46,234.60Z" fill="#000"/>
<path d="M23.77,196.09 L24.01,195.90 L24.24,195.69 L24.47,195.49 L24.70,195.29 L24.92,195.09 L25.15,194.89 L25.38,194.70 L25.60,194.51 L25.83,194.33 L26.06,194.15 L26.29,193.98 L26.52,193.82 L26.77,193.67 L27.02,193.52 L27.27,193.37 L27.52,193.22 L27.78,193.09 L28.04,192.95 L28.30,192.82 L28.56,192.70 L28.83,192.58 L29.10,192.46 L29.36,192.35 L29.63,192.24 L29.90,192.14 L30.17,192.04 L30.44,191.95 L30.71,191.86 L30.99,191.78 L31.27,191.70 L31.55,191.62 L31.83,191.55 L32.11,191.48 L32.39,191.42 L32.66,191.36 L32.94,191.31 L33.22,191.26 L33.50,191.21 L33.79,191.17 L34.07,191.14 L34.36,191.10 L34.64,191.08 L34.93,191.05 L35.21,191.03 L35.50,191.02 L35.78,191.01 L36.07,191.00 L36.35,191.00 L36.63,191.00 L36.92,191.01 L37.20,191.02 L37.49,191.03 L37.77,191.05 L38.06,191.08 L38.34,191.10 L38.63,191.14 L38.91,191.17 L39.20,191.21 L39.48,191.26 L39.76,191.31 L40.04,191.36 L40.31,191.42 L40.59,191.48 L40.87,191.55 L41.15,191.62 L41.43,191.70 L41.71,191.78 L41.99,191.86 L42.26,191.95 L42.53,192.04 L42.80,192.14 L43.07,192.24 L43.34,192.35 L43.60,192.46 L43.87,192.58 L44.14,192.70 L44.40,192.82 L44.66,192.95 L44.92,193.09 L45.18,193.22 L45.43,193.37 L45.68,193.52 L45.93,193.67 L46.18,193.82 L46.41,193.98 L46.64,194.15 L46.87,194.33 L47.10,194.51 L47.32,194.70 L47.55,194.89 L47.78,195.09 L48.00,195.29 L48.23,195.49 L48.46,195.69 L48.69,195.90 L48.93,196.09 L49.47,195.51 L49.26,195.29 L49.06,195.07 L48.85,194.85 L48.65,194.63 L48.44,194.41 L48.23,194.18 L48.02,193.96 L47.81,193.73 L47.58,193.51 L47.36,193.30 L47.12,193.08 L46.88,192.88 L46.63,192.68 L46.39,192.49 L46.14,192.30 L45.88,192.11 L45.62,191.93 L45.36,191.75 L45.10,191.58 L44.83,191.41 L44.56,191.25 L44.28,191.09 L44.01,190.94 L43.73,190.79 L43.44,190.65 L43.16,190.52 L42.87,190.38 L42.58,190.26 L42.28,190.14 L41.98,190.02 L41.68,189.91 L41.38,189.81 L41.08,189.71 L40.77,189.62 L40.46,189.54 L40.15,189.46 L39.84,189.39 L39.53,189.32 L39.22,189.26 L38.90,189.21 L38.59,189.16 L38.27,189.12 L37.95,189.08 L37.63,189.05 L37.31,189.03 L36.99,189.01 L36.67,189.00 L36.35,189.00 L36.03,189.00 L35.71,189.01 L35.39,189.03 L35.07,189.05 L34.75,189.08 L34.43,189.12 L34.11,189.16 L33.80,189.21 L33.48,189.26 L33.17,189.32 L32.86,189.39 L32.55,189.46 L32.24,189.54 L31.93,189.62 L31.62,189.71 L31.32,189.81 L31.02,189.91 L30.72,190.02 L30.42,190.14 L30.12,190.26 L29.83,190.38 L29.54,190.52 L29.26,190.65 L28.97,190.79 L28.69,190.94 L28.42,191.09 L28.14,191.25 L27.87,191.41 L27.60,191.58 L27.34,191.75 L27.08,191.93 L26.82,192.11 L26.56,192.30 L26.31,192.49 L26.07,192.68 L25.82,192.88 L25.58,193.08 L25.34,193.30 L25.12,193.51 L24.89,193.73 L24.68,193.96 L24.47,194.18 L24.26,194.41 L24.05,194.63 L23.85,194.85 L23.64,195.07 L23.44,195.29 L23.23,195.51Z" fill="#000"/>
<path d="M23.24,142.80 L23.46,143.01 L23.67,143.21 L23.88,143.42 L24.09,143.63 L24.30,143.84 L24.52,144.05 L24.74,144.26 L24.96,144.47 L25.19,144.68 L25.42,144.89 L25.66,145.08 L25.91,145.28 L26.16,145.46 L26.41,145.64 L26.66,145.82 L26.91,146.00 L27.17,146.17 L27.44,146.33 L27.70,146.49 L27.97,146.65 L28.24,146.80 L28.52,146.95 L28.79,147.09 L29.07,147.23 L29.35,147.36 L29.64,147.49 L29.93,147.61 L30.22,147.73 L30.51,147.84 L30.80,147.95 L31.10,148.05 L31.40,148.14 L31.70,148.23 L32.00,148.32 L32.30,148.40 L32.61,148.47 L32.91,148.54 L33.22,148.60 L33.53,148.66 L33.84,148.71 L34.15,148.75 L34.47,148.79 L34.78,148.82 L35.09,148.85 L35.41,148.87 L35.72,148.89 L36.04,148.90 L36.35,148.90 L36.66,148.90 L36.98,148.89 L37.29,148.87 L37.61,148.85 L37.92,148.82 L38.23,148.79 L38.55,148.75 L38.86,148.71 L39.17,148.66 L39.48,148.60 L39.79,148.54 L40.09,148.47 L40.40,148.40 L40.70,148.32 L41.00,148.23 L41.30,148.14 L41.60,148.05 L41.90,147.95 L42.19,147.84 L42.48,147.73 L42.77,147.61 L43.06,147.49 L43.35,147.36 L43.63,147.23 L43.91,147.09 L44.18,146.95 L44.46,146.80 L44.73,146.65 L45.00,146.49 L45.26,146.33 L45.53,146.17 L45.79,146.00 L46.04,145.82 L46.29,145.64 L46.54,145.46 L46.79,145.28 L47.04,145.08 L47.28,144.89 L47.51,144.68 L47.74,144.47 L47.96,144.26 L48.18,144.05 L48.40,143.84 L48.61,143.63 L48.82,143.42 L49.03,143.21 L49.24,143.01 L49.46,142.80 L48.94,142.20 L48.70,142.38 L48.46,142.56 L48.23,142.75 L47.99,142.94 L47.76,143.13 L47.53,143.31 L47.30,143.49 L47.07,143.67 L46.83,143.84 L46.60,144.00 L46.36,144.16 L46.13,144.30 L45.88,144.45 L45.63,144.59 L45.38,144.73 L45.12,144.86 L44.86,144.99 L44.60,145.11 L44.34,145.23 L44.07,145.34 L43.81,145.45 L43.54,145.56 L43.28,145.66 L43.01,145.76 L42.74,145.86 L42.47,145.95 L42.20,146.03 L41.93,146.11 L41.65,146.19 L41.38,146.26 L41.10,146.33 L40.83,146.40 L40.55,146.46 L40.27,146.52 L39.99,146.57 L39.72,146.62 L39.44,146.66 L39.16,146.70 L38.88,146.74 L38.60,146.77 L38.32,146.80 L38.04,146.83 L37.76,146.85 L37.47,146.87 L37.19,146.88 L36.91,146.89 L36.63,146.90 L36.35,146.90 L36.07,146.90 L35.79,146.89 L35.51,146.88 L35.23,146.87 L34.94,146.85 L34.66,146.83 L34.38,146.80 L34.10,146.77 L33.82,146.74 L33.54,146.70 L33.26,146.66 L32.98,146.62 L32.71,146.57 L32.43,146.52 L32.15,146.46 L31.87,146.40 L31.60,146.33 L31.32,146.26 L31.05,146.19 L30.77,146.11 L30.50,146.03 L30.23,145.95 L29.96,145.86 L29.69,145.76 L29.42,145.66 L29.16,145.56 L28.89,145.45 L28.63,145.34 L28.36,145.23 L28.10,145.11 L27.84,144.99 L27.58,144.86 L27.32,144.73 L27.07,144.59 L26.82,144.45 L26.57,144.30 L26.34,144.16 L26.10,144.00 L25.87,143.84 L25.63,143.67 L25.40,143.49 L25.17,143.31 L24.94,143.13 L24.71,142.94 L24.47,142.75 L24.24,142.56 L24.00,142.38 L23.76,142.20Z" fill="#000"/>
<path d="M23.77,124.60 L24.00,124.41 L24.24,124.22 L24.47,124.02 L24.70,123.83 L24.93,123.63 L25.16,123.44 L25.39,123.25 L25.62,123.07 L25.85,122.89 L26.08,122.72 L26.31,122.56 L26.55,122.41 L26.79,122.26 L27.04,122.11 L27.30,121.97 L27.55,121.83 L27.81,121.70 L28.07,121.57 L28.33,121.45 L28.60,121.33 L28.86,121.21 L29.13,121.10 L29.39,120.99 L29.66,120.89 L29.93,120.79 L30.20,120.70 L30.47,120.61 L30.74,120.52 L31.02,120.44 L31.30,120.37 L31.57,120.29 L31.85,120.23 L32.13,120.16 L32.41,120.10 L32.69,120.05 L32.96,119.99 L33.24,119.95 L33.52,119.90 L33.80,119.87 L34.09,119.83 L34.37,119.80 L34.65,119.77 L34.94,119.75 L35.22,119.73 L35.50,119.72 L35.79,119.71 L36.07,119.70 L36.35,119.70 L36.63,119.70 L36.91,119.71 L37.20,119.72 L37.48,119.73 L37.76,119.75 L38.05,119.77 L38.33,119.80 L38.61,119.83 L38.90,119.87 L39.18,119.90 L39.46,119.95 L39.74,119.99 L40.01,120.05 L40.29,120.10 L40.57,120.16 L40.85,120.23 L41.13,120.29 L41.40,120.37 L41.68,120.44 L41.96,120.52 L42.23,120.61 L42.50,120.70 L42.77,120.79 L43.04,120.89 L43.31,120.99 L43.57,121.10 L43.84,121.21 L44.10,121.33 L44.37,121.45 L44.63,121.57 L44.89,121.70 L45.15,121.83 L45.40,121.97 L45.66,122.11 L45.91,122.26 L46.15,122.41 L46.39,122.56 L46.62,122.72 L46.85,122.89 L47.08,123.07 L47.31,123.25 L47.54,123.44 L47.77,123.63 L48.00,123.83 L48.23,124.02 L48.46,124.22 L48.70,124.41 L48.93,124.60 L49.47,124.00 L49.25,123.79 L49.05,123.58 L48.84,123.37 L48.63,123.15 L48.42,122.93 L48.21,122.71 L47.99,122.50 L47.77,122.28 L47.55,122.07 L47.32,121.86 L47.08,121.65 L46.84,121.45 L46.59,121.26 L46.34,121.07 L46.09,120.89 L45.83,120.71 L45.57,120.53 L45.31,120.36 L45.05,120.19 L44.78,120.03 L44.51,119.87 L44.23,119.72 L43.96,119.57 L43.68,119.43 L43.39,119.30 L43.11,119.16 L42.82,119.04 L42.53,118.92 L42.24,118.80 L41.94,118.69 L41.64,118.58 L41.34,118.48 L41.04,118.39 L40.73,118.30 L40.43,118.22 L40.12,118.14 L39.81,118.07 L39.51,118.01 L39.19,117.95 L38.88,117.90 L38.57,117.85 L38.25,117.81 L37.93,117.78 L37.62,117.75 L37.30,117.73 L36.98,117.71 L36.67,117.70 L36.35,117.70 L36.03,117.70 L35.72,117.71 L35.40,117.73 L35.08,117.75 L34.77,117.78 L34.45,117.81 L34.13,117.85 L33.82,117.90 L33.51,117.95 L33.19,118.01 L32.89,118.07 L32.58,118.14 L32.27,118.22 L31.97,118.30 L31.66,118.39 L31.36,118.48 L31.06,118.58 L30.76,118.69 L30.46,118.80 L30.17,118.92 L29.88,119.04 L29.59,119.16 L29.31,119.30 L29.02,119.43 L28.74,119.57 L28.47,119.72 L28.19,119.87 L27.92,120.03 L27.65,120.19 L27.39,120.36 L27.13,120.53 L26.87,120.71 L26.61,120.89 L26.36,121.07 L26.11,121.26 L25.86,121.45 L25.62,121.65 L25.38,121.86 L25.15,122.07 L24.93,122.28 L24.71,122.50 L24.49,122.71 L24.28,122.93 L24.07,123.15 L23.86,123.37 L23.65,123.58 L23.45,123.79 L23.23,124.00Z" fill="#000"/>
<line x1="23.5" y1="178.9" x2="48.7" y2="186.8" stroke="#000" stroke-width="1.3"/>
<g transform="translate(43.9,265.0) rotate(-90)" class="se">
<text class="se" x="30.5" y="0.3" font-size="30" font-style="italic">θ</text>
<text class="se" x="44.9" y="-0.3" font-size="28" font-style="italic">,</text>
<text class="se" x="52.6" y="0" font-size="27" font-style="italic">Z</text>
<text class="se" x="123.6" y="0" font-size="27" font-style="italic">Z</text>
</g>
<rect x="676" y="157" width="137" height="291.3" fill="#000"/>
<rect x="670.5" y="151.4" width="136.8" height="291" fill="#fff" stroke="#222" stroke-width="1.1"/>
<g fill="none" stroke-width="2.5">
<line x1="678" y1="180.2" x2="699.7" y2="180.2" stroke="#0000ff"/>
<line x1="678" y1="227.3" x2="699.7" y2="227.3" stroke="#ff0000" stroke-dasharray="7.3 2.2"/>
<line x1="678" y1="274.3" x2="699.7" y2="274.3" stroke="#000" stroke-dasharray="3.9 2.1"/>
<line x1="678" y1="321.4" x2="697" y2="321.4" stroke="#0000ff" stroke-dasharray="3.5 2.4 7 2.4"/>
<line x1="678" y1="368.5" x2="699.7" y2="368.5" stroke="#00ff00"/>
<line x1="678" y1="415.5" x2="699.7" y2="415.5" stroke="#000"/>
</g>
<text class="lg" x="724" y="185.9" font-style="italic" style="font-size:18.6px">H<tspan font-size="14" dy="-5.9" dx="1" font-style="normal">−</tspan></text>
<text class="lg" x="724" y="233">He</text>
<text class="lg" x="724" y="279.9">Li<tspan font-size="14.5" dy="-6.2" dx="0.2">+</tspan></text>
<text class="lg" x="724" y="327.6">Be</text>
<text class="lg" x="745.1" y="319.9" style="font-size:13.3px">2</text>
<text class="lg" x="752.2" y="321.4" style="font-size:14.7px">+</text>
<text class="lg" x="723.9" y="374.8" style="font-size:18.5px" font-style="italic">B</text>
<text class="lg" x="735.6" y="366.5" style="font-size:12.9px">3</text>
<text class="lg" x="743.1" y="368.3" style="font-size:14.7px">+</text>
<text class="lg" x="724.0" y="421.8" style="font-size:19.2px" font-style="italic">Z</text>
<text class="lg" transform="translate(734.8,422.9) scale(1.06,1)" style="font-size:19.5px">=</text>
<text class="lg" transform="translate(746.2,423.2) scale(1.12,1)" style="font-size:20.3px">∞</text>
</svg></body></html>
